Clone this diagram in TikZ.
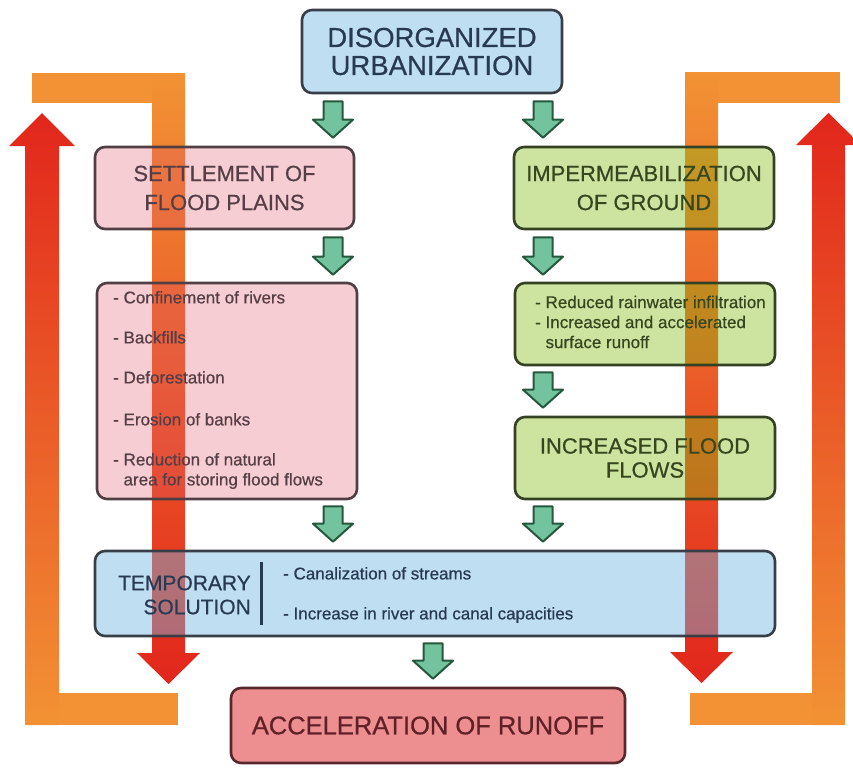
\documentclass[tikz,border=0pt]{standalone}
\usepackage{fontspec}
\setmainfont{Liberation Sans}[FakeBold=0.6]
\usetikzlibrary{calc}
\definecolor{orangeC}{RGB}{242,146,52}
\definecolor{redC}{RGB}{226,38,28}
\definecolor{pinkF}{RGB}{225,88,105}
\definecolor{blueF}{RGB}{115,182,226}
\definecolor{blueL}{RGB}{192,222,242}
\definecolor{greenF}{RGB}{130,185,17}
\definecolor{accelF}{RGB}{237,142,144}
\definecolor{blueD}{RGB}{55,62,72}
\definecolor{pinkD}{RGB}{80,62,68}
\definecolor{greenD}{RGB}{52,66,36}
\definecolor{accelD}{RGB}{88,40,45}
\definecolor{blueT}{RGB}{40,58,82}
\definecolor{pinkT}{RGB}{85,62,70}
\definecolor{greenT}{RGB}{55,70,30}
\definecolor{accelT}{RGB}{95,32,38}
\definecolor{garF}{RGB}{115,195,158}
\definecolor{garD}{RGB}{38,88,62}
\newcommand\garrow[2]{%
  \path[garrowstyle] ($(#1)+(-9.5,0)$) -- ($(#2)+(-9.5,-18)$) -- ($(#2)+(-20,-18)$) -- (#2)
    -- ($(#2)+(20,-18)$) -- ($(#2)+(9.5,-18)$) -- ($(#1)+(9.5,0)$) -- cycle;}
\begin{document}
\begin{tikzpicture}[x=1pt,y=-1pt,
  box/.style={draw, line width=2.6pt, rounded corners=10pt, inner sep=0pt},
  topbox/.style={box, draw=blueD, fill=blueL, text=blueT},
  bluebox/.style={box, draw=blueD, fill=blueF, fill opacity=0.45, text opacity=1, text=blueT},
  pinkbox/.style={box, draw=pinkD, fill=pinkF, fill opacity=0.3, text opacity=1, text=pinkT},
  greenbox/.style={box, draw=greenD, fill=greenF, fill opacity=0.4, text opacity=1, text=greenT},
  accelbox/.style={box, draw=accelD, fill=accelF, text=accelT},
  listtext/.style={inner sep=0pt, align=left, anchor=west, font=\fontsize{17}{20}\selectfont},
  garrowstyle/.style={fill=garF, draw=garD, line width=2pt, line join=round},
]
\useasboundingbox (0,0) rectangle (853,768);
% ---- feedback arrows (under the boxes)
\fill[orangeC] (32,73) rectangle (185,103);
\shade[top color=orangeC,bottom color=redC] (152,73) -- (185,73) -- (185,653) -- (200,653) -- (168.5,684) -- (137,653) -- (152,653) -- cycle;
\fill[orangeC] (25,693) rectangle (178,725);
\shade[top color=redC,bottom color=orangeC] (25,725) -- (25,146) -- (9,146) -- (42,113) -- (75,146) -- (59,146) -- (59,725) -- cycle;
\fill[orangeC] (685,72) rectangle (840,103);
\shade[top color=orangeC,bottom color=redC] (685,72) -- (718,72) -- (718,652) -- (733,652) -- (701.5,683) -- (670,652) -- (685,652) -- cycle;
\fill[orangeC] (690,693) rectangle (845,725);
\shade[top color=redC,bottom color=orangeC] (812,725) -- (812,145) -- (796,145) -- (828.5,113) -- (861,145) -- (845,145) -- (845,725) -- cycle;
% ---- boxes
\node[topbox, minimum width=260pt, minimum height=83pt, align=center, font=\fontsize{27.5}{28}\selectfont] (top) at (432,51.5) {DISORGANIZED\\URBANIZATION};
\node[pinkbox, minimum width=259pt, minimum height=82pt, align=center, font=\fontsize{22}{29}\selectfont] (settle) at (224.5,188) {SETTLEMENT OF\\FLOOD PLAINS};
\node[greenbox, minimum width=260pt, minimum height=82pt, align=center, font=\fontsize{22}{29}\selectfont] (imper) at (644,188) {IMPERMEABILIZATION\\OF GROUND};
\node[pinkbox, minimum width=260pt, minimum height=216pt] (leftlist) at (227,391) {};
\node[greenbox, minimum width=260pt, minimum height=82pt] (rightlist) at (645,324) {};
\node[greenbox, minimum width=260pt, minimum height=82pt, align=center, font=\fontsize{22}{24}\selectfont] (incr) at (645,458) {INCREASED FLOOD\\FLOWS};
\node[bluebox, minimum width=680pt, minimum height=85pt] (temp) at (435,593.5) {};
\node[accelbox, minimum width=394pt, minimum height=75pt, font=\fontsize{25.5}{28}\selectfont] (accel) at (428,725.5) {ACCELERATION OF RUNOFF};
% ---- texts
\node[listtext, text=pinkT] (ltext) at (113,390) {- Confinement of rivers\\[20pt]- Backfills\\[20pt]- Deforestation\\[22pt]- Erosion of banks\\[20pt]- Reduction of natural\\\phantom{- }area for storing flood flows};
\node[listtext, text=greenT] (rtext) at (535,322) {- Reduced rainwater infiltration\\- Increased and accelerated\\\phantom{- }surface runoff};
\node[inner sep=0pt, align=right, anchor=east, text=blueT, font=\fontsize{21}{24}\selectfont] (ttitle) at (251,595) {TEMPORARY\\SOLUTION};
\draw[blueT, line width=3pt] ([xshift=168pt,yshift=-12pt]temp.north west) -- ([xshift=168pt,yshift=12pt]temp.south west);
\node[listtext, text=blueT] (titems) at (283,595) {- Canalization of streams\\[20pt]- Increase in river and canal capacities};
% ---- green arrows
\coordinate (g1a) at ([xshift=-99pt,yshift=-7pt]top.south);
\coordinate (g1b) at ([xshift=108.5pt,yshift=8pt]settle.north);
\coordinate (g2a) at ([xshift=111pt,yshift=-7pt]top.south);
\coordinate (g2b) at ([xshift=-101pt,yshift=8pt]imper.north);
\coordinate (g3a) at ([xshift=108.5pt,yshift=-7pt]settle.south);
\coordinate (g3b) at ([xshift=106pt,yshift=7pt]leftlist.north);
\coordinate (g4a) at ([xshift=-101pt,yshift=-7pt]imper.south);
\coordinate (g4b) at ([xshift=-102pt,yshift=7pt]rightlist.north);
\coordinate (g5a) at ([xshift=-102pt,yshift=-6pt]rightlist.south);
\coordinate (g5b) at ([xshift=-102pt,yshift=8pt]incr.north);
\coordinate (g6a) at ([xshift=106pt,yshift=-6pt]leftlist.south);
\coordinate (g6b) at ([xshift=-102pt,yshift=8pt]temp.north);
\coordinate (g7a) at ([xshift=-102pt,yshift=-6pt]incr.south);
\coordinate (g7b) at ([xshift=108pt,yshift=8pt]temp.north);
\coordinate (g8a) at ([xshift=-2pt,yshift=-6pt]temp.south);
\coordinate (g8b) at ([xshift=5pt,yshift=8pt]accel.north);
\garrow{g1a}{g1b}
\garrow{g2a}{g2b}
\garrow{g3a}{g3b}
\garrow{g4a}{g4b}
\garrow{g5a}{g5b}
\garrow{g6a}{g6b}
\garrow{g7a}{g7b}
\garrow{g8a}{g8b}
\end{tikzpicture}
\end{document}
